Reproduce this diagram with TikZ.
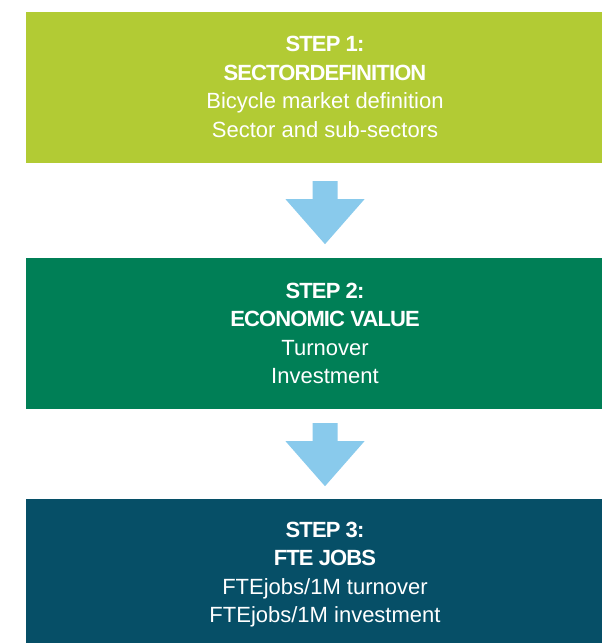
\documentclass[tikz,border=0pt]{standalone}
\usepackage{fontspec}
\setmainfont{Liberation Sans}
\usetikzlibrary{calc}
\definecolor{limegreen}{RGB}{178,203,52}
\definecolor{deepgreen}{RGB}{0,127,86}
\definecolor{deepteal}{RGB}{6,79,103}
\definecolor{arrowblue}{RGB}{137,202,236}
\newcommand{\steptitle}[1]{{\bfseries\addfontfeature{LetterSpace=-4}#1}}
\begin{document}
\begin{tikzpicture}[x=1pt,y=-1pt,
  stepbox/.style={rectangle, minimum width=598pt, minimum height=151pt, inner sep=0pt,
    align=center, text=white, font=\fontsize{22}{28.5}\selectfont},
  flowarrow/.style={fill=arrowblue, draw=none}]
\path[use as bounding box, clip] (0,0) rectangle (602,643);
\node[stepbox, fill=limegreen] (b1) at (325,87)
  {\steptitle{STEP 1:}\\\steptitle{SECTORDEFINITION}\\Bicycle market definition\\Sector and sub-sectors};
\node[stepbox, fill=deepgreen] (b2) at (325,333.5)
  {\steptitle{STEP 2:}\\\steptitle{ECONOMIC VALUE}\\Turnover\\Investment};
\node[stepbox, fill=deepteal] (b3) at (325,574.5)
  {\steptitle{STEP 3:}\\\steptitle{FTE JOBS}\\FTEjobs/1M turnover\\FTEjobs/1M investment};
\coordinate (a1) at ($(b1.south)+(0,18.5)$);
\coordinate (a2) at ($(b2.south)+(0,14)$);
\foreach \a in {a1,a2}{
  \fill[flowarrow] ($(\a)+(-12.5,0)$) -- ($(\a)+(12.5,0)$) -- ($(\a)+(12.5,18)$)
    -- ($(\a)+(39.5,18)$) -- ($(\a)+(0,63)$) -- ($(\a)+(-39.5,18)$)
    -- ($(\a)+(-12.5,18)$) -- cycle;
}
\end{tikzpicture}
\end{document}
